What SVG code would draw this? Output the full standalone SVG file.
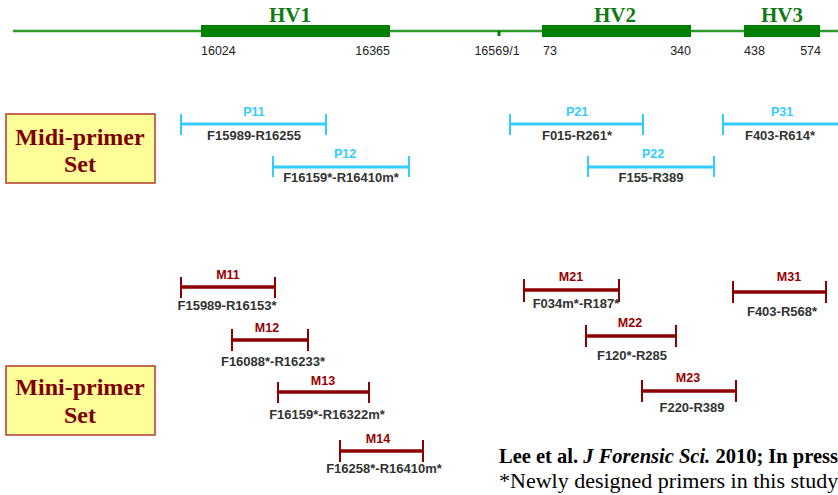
<svg xmlns="http://www.w3.org/2000/svg" width="838" height="495" viewBox="0 0 838 495">
<style>
.hv{font-family:"Liberation Serif",serif;font-weight:bold;font-size:21px;fill:#117a11;text-anchor:middle}
.num{font-family:"Liberation Sans",Arial,sans-serif;font-size:12.5px;fill:#222}
.box{fill:#ffff99;stroke:#b03a2e;stroke-width:1.5}
.boxt{font-family:"Liberation Serif",serif;font-weight:bold;font-size:24px;fill:#800000;text-anchor:middle}
.cy{stroke:#33ccff;stroke-width:3;fill:none}
.cyt{stroke:#33ccff;stroke-width:2;fill:none}
.rd{stroke:#8b0000;stroke-width:3.5;fill:none}
.rdt{stroke:#8b0000;stroke-width:2;fill:none}
.pl{font-family:"Liberation Sans",Arial,sans-serif;font-weight:bold;font-size:12.5px;fill:#33ccff;text-anchor:middle}
.ml{font-family:"Liberation Sans",Arial,sans-serif;font-weight:bold;font-size:12.5px;fill:#990000;text-anchor:middle}
.nm{font-family:"Liberation Sans",Arial,sans-serif;font-weight:bold;font-size:13px;fill:#333;text-anchor:middle}
.ref{font-family:"Liberation Serif",serif;font-size:22px;fill:#000}
.ref1{font-family:"Liberation Serif",serif;font-size:20.5px;font-weight:bold;fill:#000}
</style>
<rect width="838" height="495" fill="#fff"/>
<g id="axis">
<line x1="13" y1="31" x2="838" y2="31" stroke="#2e9a2e" stroke-width="2.5"/>
<rect x="201" y="25" width="189" height="12" fill="#008000"/>
<rect x="542" y="25" width="149" height="12" fill="#008000"/>
<rect x="744" y="25" width="76" height="12" fill="#008000"/>
<rect x="497.5" y="31" width="3" height="5" fill="#008000"/>
<text class="hv" x="290" y="22">HV1</text>
<text class="hv" x="615" y="22">HV2</text>
<text class="hv" x="782" y="22">HV3</text>
<text class="num" x="201" y="55">16024</text>
<text class="num" x="390" y="55" text-anchor="end">16365</text>
<text class="num" x="497" y="55" text-anchor="middle">16569/1</text>
<text class="num" x="543" y="55">73</text>
<text class="num" x="691" y="55" text-anchor="end">340</text>
<text class="num" x="744" y="55">438</text>
<text class="num" x="821" y="55" text-anchor="end">574</text>
</g>
<g id="midi-box">
<rect class="box" x="6" y="114" width="149" height="69"/>
<text class="boxt" x="80" y="145">Midi-primer</text>
<text class="boxt" x="80" y="172">Set</text>
</g>
<g id="mini-box">
<rect class="box" x="6" y="366" width="149" height="69"/>
<text class="boxt" x="80" y="395">Mini-primer</text>
<text class="boxt" x="80" y="423">Set</text>
</g>
<g id="connectors">
<g id="P11"><path class="cy" d="M180 124H327"/><path class="cyt" d="M181 114V135M326 114V135"/><text class="pl" x="254" y="116">P11</text><text class="nm" x="254" y="140">F15989-R16255</text></g>
<g id="P12"><path class="cy" d="M272 167H410"/><path class="cyt" d="M273 156V177M409 156V177"/><text class="pl" x="345" y="158">P12</text><text class="nm" x="341" y="182">F16159*-R16410m*</text></g>
<g id="P21"><path class="cy" d="M509 124H644"/><path class="cyt" d="M510 114V135M643 114V135"/><text class="pl" x="577" y="116">P21</text><text class="nm" x="577" y="140">F015-R261*</text></g>
<g id="P22"><path class="cy" d="M587 167H715"/><path class="cyt" d="M588 156V177M714 156V177"/><text class="pl" x="653" y="158">P22</text><text class="nm" x="651" y="182">F155-R389</text></g>
<g id="P31"><path class="cy" d="M722 124H838"/><path class="cyt" d="M723 114V135"/><text class="pl" x="782" y="116">P31</text><text class="nm" x="780" y="140">F403-R614*</text></g>
<g id="M11"><path class="rd" d="M180 287H276"/><path class="rdt" d="M181 277V298M275 277V298"/><text class="ml" x="228" y="279">M11</text><text class="nm" x="227" y="310">F15989-R16153*</text></g>
<g id="M12"><path class="rd" d="M231 340H309"/><path class="rdt" d="M232 329V351M308 329V351"/><text class="ml" x="267" y="332">M12</text><text class="nm" x="273" y="366">F16088*-R16233*</text></g>
<g id="M13"><path class="rd" d="M277 392H370"/><path class="rdt" d="M278 382V403M369 382V403"/><text class="ml" x="323" y="385">M13</text><text class="nm" x="327" y="419">F16159*-R16322m*</text></g>
<g id="M14"><path class="rd" d="M339 451H424"/><path class="rdt" d="M340 440V462M423 440V462"/><text class="ml" x="378" y="443">M14</text><text class="nm" x="384" y="473">F16258*-R16410m*</text></g>
<g id="M21"><path class="rd" d="M523 290H620"/><path class="rdt" d="M524 279V302M619 279V302"/><text class="ml" x="571" y="281">M21</text><text class="nm" x="576" y="308">F034m*-R187*</text></g>
<g id="M22"><path class="rd" d="M585 336H677"/><path class="rdt" d="M586 325V347M676 325V347"/><text class="ml" x="630" y="327">M22</text><text class="nm" x="632" y="360">F120*-R285</text></g>
<g id="M23"><path class="rd" d="M641 391H737"/><path class="rdt" d="M642 380V402M736 380V402"/><text class="ml" x="688" y="382">M23</text><text class="nm" x="692" y="412">F220-R389</text></g>
<g id="M31"><path class="rd" d="M732 292H827"/><path class="rdt" d="M733 281V303M826 281V303"/><text class="ml" x="789" y="281">M31</text><text class="nm" x="782" y="316">F403-R568*</text></g>
</g>
<g id="citation">
<text class="ref1" x="499" y="463">Lee et al. <tspan font-style="italic">J Forensic Sci.</tspan> 2010; In press</text>
<text class="ref" x="499" y="488">*Newly designed primers in this study</text>
</g>
</svg>
